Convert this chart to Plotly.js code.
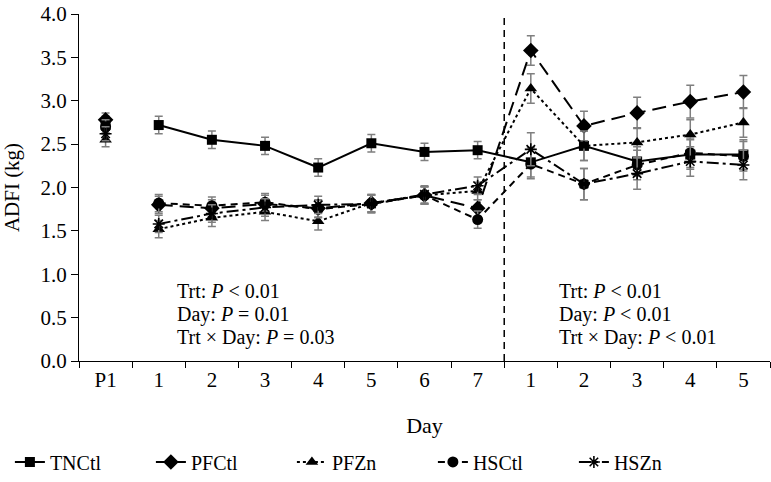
<!DOCTYPE html>
<html>
<head>
<meta charset="utf-8">
<script src="https://cdn.plot.ly/plotly-3.0.1.min.js"></script>
<style>html,body{margin:0;padding:0;background:#fff;}#chart{width:771px;height:482px;}</style>
</head>
<body>
<div id="chart"></div>
<script>
// Category labels (pre-period P1, days 1-7, then days 1-5 of second period)
const days = ["P1","1","2","3","4","5","6","7","1","2","3","4","5"];
const seriesNames = ["TNCtl","PFCtl","PFZn","HSCtl","HSZn"];

const TNCtl = [2.72, 2.72, 2.55, 2.48, 2.23, 2.51, 2.41, 2.43, 2.29, 2.48, 2.30, 2.38, 2.38];
const PFCtl = [2.78, 1.80, 1.76, 1.81, 1.76, 1.82, 1.91, 1.76, 3.58, 2.71, 2.86, 2.99, 3.10];
const PFZn  = [2.55, 1.52, 1.65, 1.72, 1.61, 1.82, 1.91, 1.96, 3.14, 2.48, 2.52, 2.61, 2.75];
const HSCtl = [2.70, 1.82, 1.79, 1.83, 1.75, 1.81, 1.91, 1.63, 2.27, 2.04, 2.26, 2.40, 2.36];
const HSZn  = [2.62, 1.58, 1.70, 1.77, 1.80, 1.81, 1.92, 2.02, 2.44, 2.04, 2.16, 2.30, 2.26];

const TNCtlSE = [0.10, 0.10, 0.10, 0.10, 0.10, 0.10, 0.10, 0.10, 0.17, 0.17, 0.17, 0.17, 0.17];
const PFCtlSE = [0.08, 0.10, 0.10, 0.10, 0.10, 0.10, 0.10, 0.10, 0.17, 0.17, 0.18, 0.19, 0.19];
const PFZnSE  = [0.08, 0.10, 0.10, 0.10, 0.10, 0.10, 0.10, 0.10, 0.17, 0.17, 0.17, 0.17, 0.17];
const HSCtlSE = [0.08, 0.10, 0.10, 0.10, 0.10, 0.10, 0.10, 0.10, 0.17, 0.18, 0.17, 0.17, 0.17];
const HSZnSE  = [0.08, 0.10, 0.10, 0.10, 0.10, 0.10, 0.10, 0.10, 0.19, 0.18, 0.18, 0.17, 0.17];

const statsLeft  = ["Trt: <i>P</i> < 0.01", "Day: <i>P</i> = 0.01", "Trt × Day: <i>P</i> = 0.03"];
const statsRight = ["Trt: <i>P</i> < 0.01", "Day: <i>P</i> < 0.01", "Trt × Day: <i>P</i> < 0.01"];

const FONT = "Liberation Serif, Times New Roman, serif";
const xIdx = days.map((d, i) => i);
const lastPreDay = 7; // index of day 7 of first period
const breakX = lastPreDay + 0.5;

const styles = {
  TNCtl: {dash: "solid", symbol: "square", size: 10},
  PFCtl: {dash: "14px,7px", symbol: "diamond", size: 12},
  PFZn:  {dash: "dot", symbol: "triangle-up", size: 11},
  HSCtl: {dash: "7px,5px", symbol: "circle", size: 11},
  HSZn:  {dash: "12px,4px,3px,4px", symbol: "asterisk-open", size: 10}
};
const vals = {TNCtl, PFCtl, PFZn, HSCtl, HSZn};
const ses = {TNCtl: TNCtlSE, PFCtl: PFCtlSE, PFZn: PFZnSE, HSCtl: HSCtlSE, HSZn: HSZnSE};

// break line between P1 and day 1 by inserting a gap
function withGap(arr, gapVal) {
  return [arr[0], gapVal, ...arr.slice(1)];
}
const xGap = withGap(xIdx, 0.5);

const traces = seriesNames.map(name => {
  const s = styles[name];
  return {
    type: "scatter", mode: "lines+markers", name: name,
    x: xGap, y: withGap(vals[name], null), connectgaps: false,
    line: {color: "black", width: 2, dash: s.dash},
    marker: {symbol: s.symbol, size: s.size, color: "black",
             line: {color: "black", width: s.symbol === "asterisk-open" ? 1.6 : 0}},
    error_y: {type: "data", array: withGap(ses[name], null), visible: true,
              color: "#7f7f7f", thickness: 1.5, width: 4}
  };
});

function statAnnots(lines, x) {
  const ys = [0.805, 0.54, 0.275];
  return lines.map((t, i) => ({
    xref: "x", yref: "y", x: x, y: ys[i], xanchor: "left", yanchor: "middle",
    align: "left", showarrow: false, text: t,
    font: {family: FONT, size: 20, color: "black"}
  }));
}

const layout = {
  width: 771, height: 482,
  margin: {l: 79, r: 1, t: 14, b: 121},
  paper_bgcolor: "white", plot_bgcolor: "white",
  font: {family: FONT, color: "black", size: 21},
  showlegend: true,
  xaxis: {
    range: [-0.5, days.length - 0.5], tickvals: xIdx, ticktext: days,
    ticks: "", showgrid: false, zeroline: false,
    showline: true, linecolor: "black", linewidth: 1,
    tickfont: {family: FONT, size: 21, color: "black"},
    minor: {ticks: "outside", ticklen: 6, tickcolor: "black", tickwidth: 1,
            tick0: -0.5, dtick: 1, showgrid: false},
    title: {text: "Day", font: {family: FONT, size: 22, color: "black"}, standoff: 26}
  },
  yaxis: {
    range: [0, 4], dtick: 0.5, tick0: 0, tickformat: ".1f",
    ticks: "outside", ticklen: 7, tickcolor: "black",
    showgrid: false, zeroline: false,
    showline: true, linecolor: "black", linewidth: 1,
    tickfont: {family: FONT, size: 21, color: "black"},
    title: {text: "ADFI (kg)", font: {family: FONT, size: 21, color: "black"}, standoff: 18}
  },
  legend: {
    orientation: "h", x: -0.1, xanchor: "left", y: -0.291, yanchor: "middle",
    font: {family: FONT, size: 20, color: "black"},
    entrywidth: 96, entrywidthmode: "pixels", bgcolor: "rgba(0,0,0,0)"
  },
  shapes: [{
    type: "line", xref: "x", yref: "y", x0: breakX, x1: breakX, y0: 0, y1: 4,
    line: {color: "black", width: 1.5, dash: "7px,5px"}
  }],
  annotations: [...statAnnots(statsLeft, 1.30), ...statAnnots(statsRight, 8.49)]
};

Plotly.newPlot("chart", traces, layout, {staticPlot: true, displayModeBar: false});
</script>
</body>
</html>
